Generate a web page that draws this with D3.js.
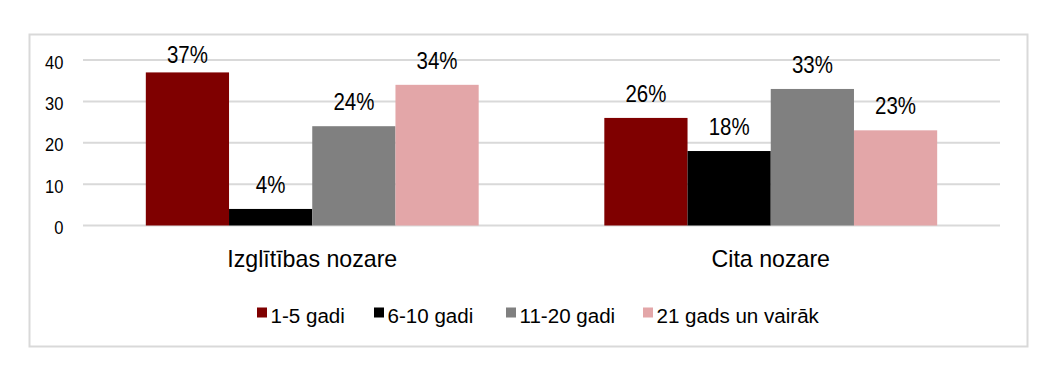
<html>
<head>
  <meta charset="utf-8">
  <script src="https://d3js.org/d3.v7.min.js"></script>
  <style>
  body { margin: 0; background: #fff; }
  text { font-family: "Liberation Sans", Arial, sans-serif; fill: #000; }
  </style>
</head>
<body>
<div id="chart"></div>
<script>
var categories = ["Izglītības nozare", "Cita nozare"];
var seriesNames = ["1-5 gadi", "6-10 gadi", "11-20 gadi", "21 gads un vairāk"];
var seriesColors = ["#7f0000", "#000000", "#808080", "#e3a6a8"];
// one row per category, one value per series (percent)
var values = [
  [37, 4, 24, 34],
  [26, 18, 33, 23]
];
var yTicks = [0, 10, 20, 30, 40];

var svg = d3.select("#chart").append("svg")
  .attr("width", 1057).attr("height", 378);

// outer frame
svg.append("rect")
  .attr("x", 29.5).attr("y", 34.5).attr("width", 998).attr("height", 312)
  .attr("fill", "none").attr("stroke", "#d9d9d9").attr("stroke-width", 2);

var y = d3.scaleLinear().domain([0, 40]).range([225.5, 60]);
var x0 = d3.scaleBand().domain(categories).range([83, 1000])
  .paddingInner(0.274).paddingOuter(0.137);
var x1 = d3.scaleBand().domain(seriesNames).range([0, x0.bandwidth()]);

// put text at (x,y) and squeeze it horizontally
function placeText(sel, fx, fy, sx) {
  sel.attr("transform", function(d, i){
    return "translate(" + fx(d, i) + "," + fy(d, i) + ") scale(" + sx + ",1)";
  });
}

// gridlines
svg.selectAll("line.grid").data(yTicks).enter().append("line")
  .attr("class", "grid")
  .attr("x1", 83).attr("x2", 1000)
  .attr("y1", function(d){ return y(d); }).attr("y2", function(d){ return y(d); })
  .attr("stroke", "#d9d9d9").attr("stroke-width", 2);

// y axis labels
var yAxis = d3.axisLeft(y).tickValues(yTicks).tickSize(0).tickPadding(0);
var gy = svg.append("g").attr("transform", "translate(63.5,0)").call(yAxis);
gy.select(".domain").remove();
gy.selectAll("text").attr("font-size", 19).attr("font-family", null)
  .attr("dy", 8).attr("transform", "scale(0.87,1)");

var groups = svg.selectAll("g.cat").data(categories).enter().append("g")
  .attr("class", "cat")
  .attr("transform", function(d){ return "translate(" + x0(d) + ",0)"; });

groups.each(function(cat, ci){
  var g = d3.select(this);
  var rows = seriesNames.map(function(s, si){ return {s: s, v: values[ci][si], c: seriesColors[si]}; });
  g.selectAll("rect").data(rows).enter().append("rect")
    .attr("x", function(d){ return x1(d.s); })
    .attr("width", x1.bandwidth())
    .attr("y", function(d){ return y(d.v); })
    .attr("height", function(d){ return y(0) - y(d.v); })
    .attr("fill", function(d){ return d.c; });
  var lbl = g.selectAll("text.lbl").data(rows).enter().append("text")
    .attr("class", "lbl")
    .attr("text-anchor", "middle").attr("font-size", 23)
    .text(function(d){ return d.v + "%"; });
  placeText(lbl,
    function(d){ return x1(d.s) + x1.bandwidth() / 2; },
    function(d){ return Math.max(y(d.v) - 16, 62.5); }, 0.89);
});

// category labels
var catLbl = svg.selectAll("text.catlbl").data(categories).enter().append("text")
  .attr("class", "catlbl")
  .attr("text-anchor", "middle").attr("font-size", 24)
  .text(function(d){ return d; });
placeText(catLbl,
  function(d){ return x0(d) + x0.bandwidth() / 2; },
  function(){ return 267.3; }, 0.966);

// legend
var legX = [257, 374, 506, 643];
var leg = svg.selectAll("g.leg").data(seriesNames).enter().append("g")
  .attr("class", "leg")
  .attr("transform", function(d, i){ return "translate(" + legX[i] + ",307.5)"; });
leg.append("rect").attr("width", 10).attr("height", 10)
  .attr("fill", function(d, i){ return seriesColors[i]; });
leg.append("text").attr("font-size", 21)
  .attr("transform", "translate(13.5,15.2) scale(0.98,1)")
  .text(function(d){ return d; });
</script>
</body>
</html>
